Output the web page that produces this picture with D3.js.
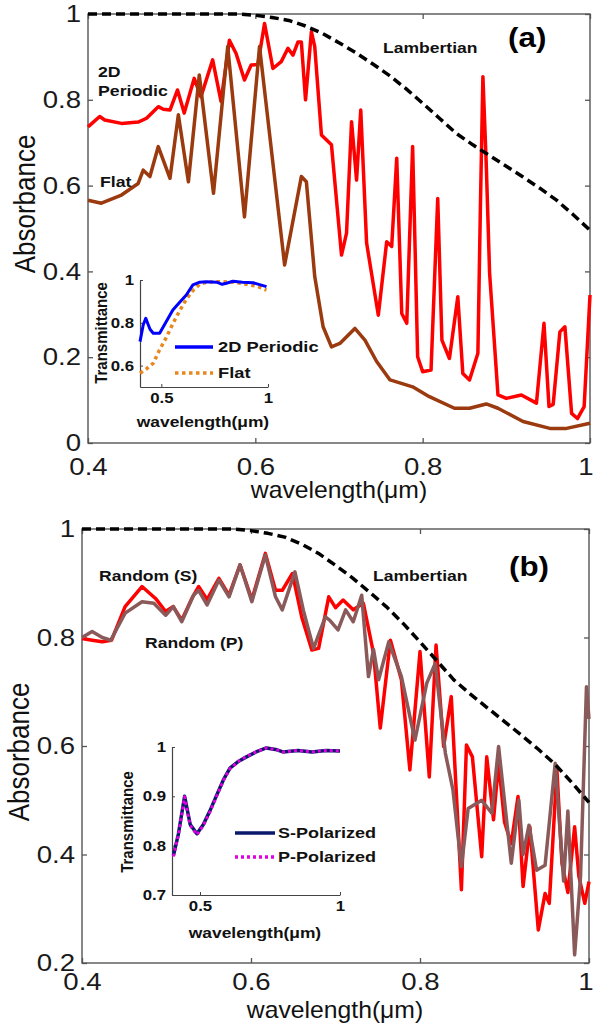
<!DOCTYPE html>
<html>
<head>
<meta charset="utf-8">
<script src="https://cdn.jsdelivr.net/npm/d3@7"></script>
<style>
  body { margin: 0; background: #fff; }
  svg { display: block; font-family: "Liberation Sans", Arial, sans-serif; }
</style>
</head>
<body>
<script>
// ---- data ----
var xTicks = [0.4, 0.6, 0.8, 1];
var yTicksA = [0, 0.2, 0.4, 0.6, 0.8, 1];
var yTicksB = [0.2, 0.4, 0.6, 0.8, 1];

// Lambertian limit (same in both panels)
var wlLamb = [0.40, 0.58, 0.60, 0.62, 0.64, 0.66, 0.68, 0.70, 0.72, 0.74, 0.76, 0.78, 0.80, 0.82, 0.84, 0.86, 0.88, 0.90, 0.92, 0.94, 0.96, 0.98, 1.00];
var absLamb = [1, 1, 0.997, 0.992, 0.985, 0.972, 0.955, 0.933, 0.910, 0.884, 0.857, 0.826, 0.792, 0.757, 0.722, 0.695, 0.670, 0.645, 0.620, 0.594, 0.566, 0.532, 0.496];

// panel (a) : 2D periodic
var wlPer = [0.400, 0.414, 0.420, 0.440, 0.460, 0.470, 0.484, 0.490, 0.498, 0.507, 0.515, 0.527, 0.535, 0.549, 0.559, 0.569, 0.577, 0.587, 0.595, 0.603, 0.611, 0.621, 0.631, 0.639, 0.645, 0.651, 0.655, 0.660, 0.667, 0.671, 0.679, 0.691, 0.703, 0.709, 0.715, 0.721, 0.726, 0.733, 0.747, 0.757, 0.763, 0.769, 0.775, 0.781, 0.788, 0.791, 0.794, 0.800, 0.810, 0.818, 0.823, 0.832, 0.842, 0.848, 0.856, 0.866, 0.869, 0.872, 0.876, 0.880, 0.890, 0.900, 0.918, 0.936, 0.945, 0.951, 0.956, 0.964, 0.970, 0.978, 0.985, 0.993, 1.000];
var absPer = [0.737, 0.761, 0.753, 0.745, 0.748, 0.757, 0.784, 0.778, 0.776, 0.823, 0.769, 0.850, 0.807, 0.893, 0.796, 0.939, 0.908, 0.846, 0.881, 0.882, 0.978, 0.873, 0.889, 0.920, 0.904, 0.935, 0.935, 0.800, 0.959, 0.924, 0.718, 0.695, 0.438, 0.489, 0.749, 0.613, 0.776, 0.466, 0.298, 0.469, 0.458, 0.664, 0.302, 0.279, 0.691, 0.450, 0.201, 0.166, 0.170, 0.570, 0.240, 0.197, 0.341, 0.162, 0.147, 0.209, 0.550, 0.854, 0.650, 0.396, 0.112, 0.104, 0.112, 0.093, 0.279, 0.085, 0.090, 0.259, 0.271, 0.069, 0.057, 0.085, 0.345];

// panel (a) : flat
var wlFlat = [0.400, 0.416, 0.440, 0.460, 0.466, 0.474, 0.484, 0.498, 0.508, 0.520, 0.533, 0.550, 0.567, 0.587, 0.605, 0.635, 0.655, 0.661, 0.671, 0.681, 0.691, 0.701, 0.719, 0.731, 0.745, 0.761, 0.788, 0.808, 0.838, 0.856, 0.876, 0.890, 0.920, 0.952, 0.972, 1.000];
var absFlat = [0.566, 0.559, 0.578, 0.605, 0.636, 0.621, 0.691, 0.617, 0.765, 0.609, 0.858, 0.582, 0.924, 0.527, 0.924, 0.415, 0.621, 0.609, 0.388, 0.271, 0.224, 0.232, 0.267, 0.240, 0.190, 0.147, 0.131, 0.108, 0.081, 0.081, 0.091, 0.081, 0.050, 0.034, 0.034, 0.046];

// inset (a) : transmittance
var wlInPer = [0.400, 0.415, 0.427, 0.435, 0.447, 0.462, 0.492, 0.520, 0.554, 0.585, 0.617, 0.648, 0.680, 0.711, 0.760, 0.785, 0.805, 0.836, 0.880, 0.930, 0.993];
var trPer = [0.712, 0.790, 0.821, 0.800, 0.770, 0.751, 0.751, 0.800, 0.860, 0.895, 0.930, 0.977, 0.990, 0.992, 0.990, 0.980, 0.985, 0.994, 0.990, 0.987, 0.969];
var wlInFlat = [0.400, 0.430, 0.462, 0.490, 0.525, 0.556, 0.588, 0.620, 0.650, 0.680, 0.711, 0.770, 0.836, 0.900, 0.950, 0.993];
var trFlat = [0.564, 0.585, 0.611, 0.670, 0.735, 0.800, 0.860, 0.915, 0.953, 0.980, 0.990, 0.992, 0.990, 0.980, 0.970, 0.953];

// panel (b) : random texture, S and P
var wlS = [0.400, 0.412, 0.424, 0.435, 0.451, 0.471, 0.487, 0.499, 0.508, 0.518, 0.530, 0.538, 0.548, 0.562, 0.574, 0.587, 0.601, 0.617, 0.629, 0.637, 0.649, 0.660, 0.672, 0.680, 0.692, 0.700, 0.709, 0.721, 0.733, 0.745, 0.753, 0.765, 0.778, 0.788, 0.800, 0.811, 0.819, 0.828, 0.837, 0.849, 0.855, 0.862, 0.873, 0.879, 0.887, 0.893, 0.900, 0.908, 0.916, 0.922, 0.930, 0.940, 0.948, 0.953, 0.962, 0.968, 0.975, 0.983, 0.988, 0.995, 1.000];
var absS = [0.798, 0.795, 0.792, 0.795, 0.857, 0.894, 0.872, 0.848, 0.857, 0.832, 0.872, 0.894, 0.870, 0.909, 0.878, 0.934, 0.870, 0.955, 0.887, 0.887, 0.918, 0.838, 0.777, 0.780, 0.875, 0.855, 0.869, 0.851, 0.863, 0.771, 0.633, 0.795, 0.722, 0.556, 0.774, 0.543, 0.786, 0.599, 0.691, 0.335, 0.602, 0.580, 0.396, 0.580, 0.464, 0.570, 0.460, 0.420, 0.507, 0.341, 0.451, 0.261, 0.328, 0.310, 0.556, 0.384, 0.330, 0.451, 0.360, 0.310, 0.350];
var wlP = [0.400, 0.412, 0.424, 0.434, 0.451, 0.471, 0.485, 0.499, 0.508, 0.518, 0.532, 0.538, 0.548, 0.562, 0.574, 0.587, 0.601, 0.617, 0.629, 0.637, 0.652, 0.662, 0.674, 0.688, 0.693, 0.703, 0.712, 0.721, 0.731, 0.739, 0.745, 0.751, 0.763, 0.778, 0.794, 0.808, 0.818, 0.830, 0.839, 0.849, 0.857, 0.873, 0.885, 0.893, 0.908, 0.917, 0.922, 0.929, 0.938, 0.948, 0.960, 0.970, 0.975, 0.983, 0.990, 0.997, 1.000];
var absP = [0.800, 0.811, 0.800, 0.795, 0.845, 0.866, 0.863, 0.841, 0.857, 0.829, 0.878, 0.887, 0.860, 0.906, 0.875, 0.934, 0.866, 0.952, 0.875, 0.851, 0.921, 0.850, 0.780, 0.838, 0.832, 0.814, 0.851, 0.829, 0.878, 0.728, 0.778, 0.722, 0.792, 0.728, 0.611, 0.716, 0.752, 0.587, 0.519, 0.378, 0.485, 0.500, 0.476, 0.599, 0.384, 0.500, 0.400, 0.454, 0.371, 0.380, 0.568, 0.351, 0.480, 0.215, 0.360, 0.709, 0.650];

// inset (b) : transmittance S / P
var wlInB = [0.405, 0.423, 0.445, 0.465, 0.489, 0.512, 0.535, 0.560, 0.585, 0.607, 0.635, 0.666, 0.700, 0.737, 0.770, 0.796, 0.850, 0.900, 0.950, 1.000];
var trS = [0.780, 0.824, 0.900, 0.843, 0.824, 0.843, 0.870, 0.903, 0.935, 0.957, 0.970, 0.980, 0.990, 0.998, 0.995, 0.990, 0.993, 0.990, 0.993, 0.992];
var trP = [0.778, 0.822, 0.899, 0.841, 0.822, 0.841, 0.868, 0.901, 0.934, 0.956, 0.970, 0.981, 0.990, 0.998, 0.995, 0.990, 0.993, 0.990, 0.993, 0.992];

// ---- drawing ----
var w = 593, h = 1030;
var svg = d3.select("body").append("svg").attr("width", w).attr("height", h);

var red = "#ff0000", flatC = "#9a3a0e", pC = "#8a5a5a";

function zip(a, b) { return a.map(function(d, i) { return [d, b[i]]; }); }

// text with horizontal stretch (the figure is a bit wider than tall)
function txt(g, x, y, s, o) {
  o = o || {};
  var sx = o.sx || 1;
  var tr = "translate(" + x + "," + y + ")" + (o.rot ? " rotate(" + o.rot + ") scale(1," + sx + ")" : " scale(" + sx + ",1)");
  return g.append("text")
    .attr("transform", tr)
    .attr("font-size", o.size || 15)
    .attr("font-weight", o.bold ? "bold" : "normal")
    .attr("text-anchor", o.anchor || "start")
    .attr("fill", o.fill || "#111")
    .text(s);
}

function drawLine(g, x, y, xs, ys, color, width, dash) {
  var line = d3.line().x(function(d) { return x(d[0]); }).y(function(d) { return y(d[1]); });
  g.append("path")
    .datum(zip(xs, ys))
    .attr("d", line)
    .attr("fill", "none")
    .attr("stroke", color)
    .attr("stroke-width", width)
    .attr("stroke-linejoin", "round")
    .attr("stroke-dasharray", dash || null);
}

function mainAxes(g, x, y, yTicks, xPad) {
  var fmt = d3.format("~g");
  var left = x.range()[0], right = x.range()[1];
  var top = y.range()[1], bottom = y.range()[0];
  g.append("rect").attr("x", left).attr("y", top)
    .attr("width", right - left).attr("height", bottom - top)
    .attr("fill", "none").attr("stroke", "#555").attr("stroke-width", 1.4);

  var ax = [
    g.append("g").attr("transform", "translate(0," + bottom + ")")
      .call(d3.axisBottom(x).tickValues(xTicks).tickFormat(fmt).tickSizeInner(-5).tickSizeOuter(0).tickPadding(xPad)),
    g.append("g").attr("transform", "translate(" + left + ",0)")
      .call(d3.axisLeft(y).tickValues(yTicks).tickFormat(fmt).tickSizeInner(-5).tickSizeOuter(0).tickPadding(6)),
    g.append("g").attr("transform", "translate(0," + top + ")")
      .call(d3.axisTop(x).tickValues(xTicks).tickFormat("").tickSizeInner(-5).tickSizeOuter(0)),
    g.append("g").attr("transform", "translate(" + right + ",0)")
      .call(d3.axisRight(y).tickValues(yTicks).tickFormat("").tickSizeInner(-5).tickSizeOuter(0))
  ];
  ax.forEach(function(a) {
    a.select(".domain").remove();
    a.selectAll("line").attr("stroke", "#555").attr("stroke-width", 1.3);
    a.selectAll("text").attr("font-size", 24).attr("fill", "#1a1a1a")
      .attr("font-family", "Liberation Sans, Arial, sans-serif")
      .attr("transform", "scale(1.15,1)");
  });
  // last x label sits at the right edge of the page: keep it inside
  ax[0].selectAll(".tick text").filter(function(d) { return d === 1; })
    .attr("text-anchor", "end").attr("x", (w - right) / 1.15);
}

function insetAxes(g, x, y, xt, yt, yPadR) {
  var fmt = d3.format("~g");
  var ax = [
    g.append("g").attr("transform", "translate(0," + y.range()[0] + ")")
      .call(d3.axisBottom(x).tickValues(xt).tickFormat(fmt).tickSizeInner(-3).tickSizeOuter(0).tickPadding(6)),
    g.append("g").attr("transform", "translate(" + x.range()[0] + ",0)")
      .call(d3.axisLeft(y).tickValues(yt).tickFormat(fmt).tickSizeInner(-3).tickSizeOuter(0).tickPadding(yPadR))
  ];
  ax.forEach(function(a) {
    a.select(".domain").attr("stroke", "#444").attr("stroke-width", 1.2);
    a.selectAll("line").attr("stroke", "#444");
    a.selectAll("text").attr("font-size", 14).attr("font-weight", "bold").attr("fill", "#111")
      .attr("font-family", "Liberation Sans, Arial, sans-serif")
      .attr("transform", "scale(1.2,1)");
  });
}

// ===== panel (a) =====
var gA = svg.append("g");
var xA = d3.scaleLinear().domain([0.4, 1]).range([88, 590]);
var yA = d3.scaleLinear().domain([0, 1]).range([443, 14]);
mainAxes(gA, xA, yA, yTicksA, 15);
drawLine(gA, xA, yA, wlPer, absPer, red, 3.5);
drawLine(gA, xA, yA, wlFlat, absFlat, flatC, 3.5);
drawLine(gA, xA, yA, wlLamb, absLamb, "#000", 3.5, "9,5");

txt(gA, 35, 204, "Absorbance", {size: 26, rot: -90, anchor: "middle", sx: 1.1});
txt(gA, 339, 498, "wavelength(\u03bcm)", {size: 24, anchor: "middle", sx: 1.03});
txt(gA, 98, 77, "2D", {bold: true, sx: 1.18});
txt(gA, 98, 96, "Periodic", {bold: true, sx: 1.18});
txt(gA, 100, 187, "Flat", {bold: true, sx: 1.18});
txt(gA, 383, 53, "Lambertian", {bold: true, sx: 1.17});
txt(gA, 508, 47, "(a)", {bold: true, size: 28, sx: 1.12, fill: "#000"});

// inset (a)
var xIa = d3.scaleLinear().domain([0.4, 1]).range([140, 268]);
var yIa = d3.scaleLinear().domain([0.5, 1]).range([387, 280]);
insetAxes(gA, xIa, yIa, [0.5, 1], [0.6, 0.8, 1], 5);
drawLine(gA, xIa, yIa, wlInFlat, trFlat, "#e8871e", 3.5, "3.5,3.5");
drawLine(gA, xIa, yIa, wlInPer, trPer, "#0000ff", 3);
txt(gA, 107, 333, "Transmittance", {bold: true, size: 15, rot: -90, anchor: "middle", sx: 1.15});
txt(gA, 203, 427, "wavelength(\u03bcm)", {bold: true, size: 14.5, anchor: "middle", sx: 1.2});
gA.append("line").attr("x1", 175).attr("x2", 213).attr("y1", 347).attr("y2", 347).attr("stroke", "#0000ff").attr("stroke-width", 3.5);
gA.append("line").attr("x1", 175).attr("x2", 213).attr("y1", 373).attr("y2", 373).attr("stroke", "#e8871e").attr("stroke-width", 3.5).attr("stroke-dasharray", "3.5,3.5");
txt(gA, 218, 352, "2D Periodic", {bold: true, size: 15, sx: 1.22});
txt(gA, 218, 378, "Flat", {bold: true, size: 15, sx: 1.22});

// ===== panel (b) =====
var gB = svg.append("g");
var xB = d3.scaleLinear().domain([0.4, 1]).range([82, 589]);
var yB = d3.scaleLinear().domain([0.2, 1]).range([963, 529]);
mainAxes(gB, xB, yB, yTicksB, 10);
drawLine(gB, xB, yB, wlS, absS, red, 3.5);
drawLine(gB, xB, yB, wlP, absP, pC, 3.5);
drawLine(gB, xB, yB, wlLamb, absLamb, "#000", 3.5, "9,5");

txt(gB, 29, 752, "Absorbance", {size: 26, rot: -90, anchor: "middle", sx: 1.1});
txt(gB, 335, 1018, "wavelength(\u03bcm)", {size: 24, anchor: "middle", sx: 1.03});
txt(gB, 99, 581, "Random (S)", {bold: true, sx: 1.17});
txt(gB, 145, 648, "Random (P)", {bold: true, sx: 1.17});
txt(gB, 373, 581, "Lambertian", {bold: true, sx: 1.17});
txt(gB, 509, 576, "(b)", {bold: true, size: 28, sx: 1.12, fill: "#000"});

// inset (b)
var xIb = d3.scaleLinear().domain([0.4, 1]).range([172, 340]);
var yIb = d3.scaleLinear().domain([0.7, 1]).range([895, 747]);
insetAxes(gB, xIb, yIb, [0.5, 1], [0.7, 0.8, 0.9, 1], 5);
drawLine(gB, xIb, yIb, wlInB, trS, "#0a1a6b", 3.5);
drawLine(gB, xIb, yIb, wlInB, trP, "#e000e0", 3, "3,3");
txt(gB, 133, 822, "Transmittance", {bold: true, size: 15, rot: -90, anchor: "middle", sx: 1.15});
txt(gB, 255, 938, "wavelength(\u03bcm)", {bold: true, size: 14.5, anchor: "middle", sx: 1.2});
gB.append("line").attr("x1", 235).attr("x2", 275).attr("y1", 833).attr("y2", 833).attr("stroke", "#0a1a6b").attr("stroke-width", 3.5);
gB.append("line").attr("x1", 235).attr("x2", 275).attr("y1", 857).attr("y2", 857).attr("stroke", "#e000e0").attr("stroke-width", 3.5).attr("stroke-dasharray", "3,3");
txt(gB, 278, 838, "S-Polarized", {bold: true, size: 15, sx: 1.2});
txt(gB, 278, 862, "P-Polarized", {bold: true, size: 15, sx: 1.2});
</script>
</body>
</html>
